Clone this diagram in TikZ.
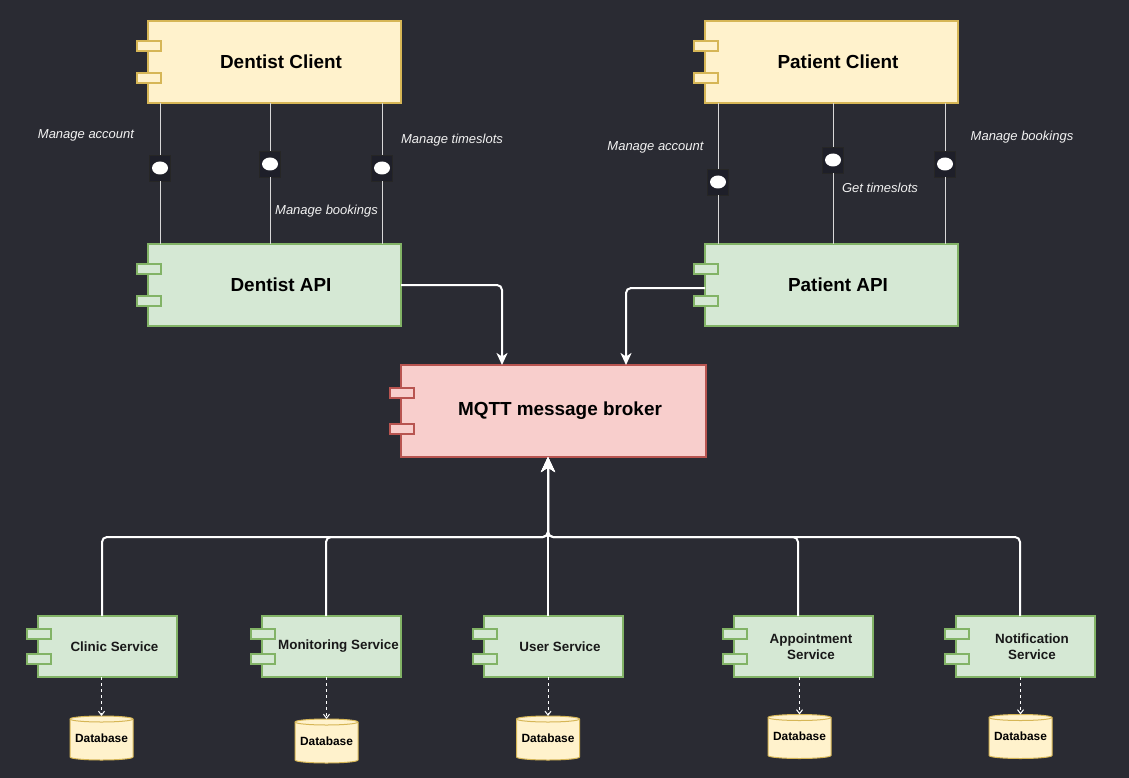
\documentclass[tikz,border=0pt]{standalone}
\usepackage{fontspec}
\setmainfont{Liberation Sans}
\usetikzlibrary{calc,arrows.meta}
\definecolor{bg}{RGB}{42,43,51}
\definecolor{yfill}{HTML}{FFF2CC}
\definecolor{ystroke}{HTML}{D6B656}
\definecolor{gfill}{HTML}{D5E8D4}
\definecolor{gstroke}{HTML}{82B366}
\definecolor{rfill}{HTML}{F8CECC}
\definecolor{rstroke}{HTML}{B85450}
\definecolor{ifill}{HTML}{1E1F29}
\definecolor{ilinec}{HTML}{D8D8D8}

\newcommand\comp[7]{%
  \node[#6, minimum width=#4pt, minimum height=#5pt, inner sep=0pt, outer sep=0pt, label={#7}] (#1) at (#2,#3) {};
  \draw[#6] ($(#1.west)+(-11,{-0.2*#5-5})$) rectangle ++(24,10);
  \draw[#6] ($(#1.west)+(-11,{0.2*#5-5})$) rectangle ++(24,10);
}
\newcommand\dbase[3]{%
  \draw[dbs] ({#2-31.5},{#3-19}) -- ({#2-31.5},{#3+19})
     arc[start angle=180,end angle=360,x radius=31.5pt,y radius=3pt]
     -- ({#2+31.5},{#3-19})
     arc[start angle=0,end angle=180,x radius=31.5pt,y radius=3pt] -- cycle;
  \draw[dbs,fill=none] ({#2-31.5},{#3-19}) arc[start angle=180,end angle=360,x radius=31.5pt,y radius=3pt];
  \node[dbt, minimum width=63pt, minimum height=44pt, inner sep=0pt, outer sep=0pt] (#1) at (#2,#3) {\raisebox{-1pt}{Database}};
}

\begin{document}
\begin{tikzpicture}[x=1pt,y=-1pt,
  ybox/.style={draw=ystroke, fill=yfill, line width=2pt},
  gbox/.style={draw=gstroke, fill=gfill, line width=2pt},
  rbox/.style={draw=rstroke, fill=rfill, line width=2pt},
  ttl/.style={font=\bfseries\fontsize{18.9pt}{22pt}\selectfont, text=black, inner sep=0pt},
  svc/.style={font=\bfseries\fontsize{13.4pt}{16pt}\selectfont, text=black!90, align=center, inner sep=0pt},
  ilab/.style={font=\itshape\fontsize{13pt}{15pt}\selectfont, text=white!95!black, inner sep=0pt},
  dbs/.style={draw=ystroke, fill=yfill, line width=1pt},
  dbt/.style={font=\bfseries\fontsize{11.9pt}{14pt}\selectfont, text=black},
  iface/.style={rectangle, draw=black!85, fill=ifill, line width=0.8pt, minimum width=21pt, minimum height=26pt, inner sep=0pt, outer sep=0pt,
    path picture={\fill[white] (path picture bounding box.center) ellipse [x radius=8pt, y radius=6.5pt];}},
  ifl/.style={draw=ilinec, line width=1pt},
  arr/.style={draw=white, line width=2pt, rounded corners=5pt, -{Stealth[length=12pt,width=11pt,inset=3.5pt]}},
  barr/.style={draw=white, line width=2pt, rounded corners=5pt, -{Stealth[length=15pt,width=14pt,inset=4.5pt]}},
  dasharr/.style={draw=white, line width=1pt, dash pattern=on 3pt off 3pt, -{Straight Barb[length=4pt,width=6pt]}}
]
\fill[bg] (0,0) rectangle (1129,778);
\useasboundingbox (0,0) rectangle (1129,778);

% main components
\comp{dc}{274.5}{62}{253}{82}{ybox}{[ttl,xshift=6.5pt]center:Dentist Client}
\comp{pc}{831.5}{62}{253}{82}{ybox}{[ttl,xshift=6.5pt]center:Patient Client}
\comp{da}{274.5}{285}{253}{82}{gbox}{[ttl,xshift=6.5pt]center:Dentist API}
\comp{pa}{831.5}{285}{253}{82}{gbox}{[ttl,xshift=6.5pt]center:Patient API}
\comp{mq}{553.5}{411}{305}{92}{rbox}{[ttl,xshift=6.5pt]center:MQTT message broker}

% services
\comp{s1}{107.5}{646.5}{139}{61}{gbox}{[svc,xshift=7pt]center:Clinic Service}
\comp{s2}{331.5}{646.5}{139}{61}{gbox}{[svc,xshift=7pt]center:Monitoring Service}
\comp{s3}{553.5}{646.5}{139}{61}{gbox}{[svc,xshift=6.5pt]center:User Service}
\comp{s4}{803.5}{646.5}{139}{61}{gbox}{[svc,xshift=7.5pt]center:Appointment\\Service}
\comp{s5}{1025.5}{646.5}{139}{61}{gbox}{[svc,xshift=6.5pt]center:Notification\\Service}

% databases
\dbase{d1}{101.5}{738}
\dbase{d2}{326.5}{741}
\dbase{d3}{548}{738}
\dbase{d4}{799.5}{736.5}
\dbase{d5}{1020.5}{736.5}

% interfaces
\node[iface] (i1) at (160,168) {};
\node[iface] (i2) at (270,164) {};
\node[iface] (i3) at (382,168) {};
\node[iface] (i4) at (718,182) {};
\node[iface] (i5) at (833,160) {};
\node[iface] (i6) at (945,164) {};

\draw[ifl] (i1 |- dc.south) -- (i1.north); \draw[ifl] (i1.south) -- (i1 |- da.north);
\draw[ifl] (i2 |- dc.south) -- (i2.north); \draw[ifl] (i2.south) -- (i2 |- da.north);
\draw[ifl] (i3 |- dc.south) -- (i3.north); \draw[ifl] (i3.south) -- (i3 |- da.north);
\draw[ifl] (i4 |- pc.south) -- (i4.north); \draw[ifl] (i4.south) -- (i4 |- pa.north);
\draw[ifl] (i5 |- pc.south) -- (i5.north); \draw[ifl] (i5.south) -- (i5 |- pa.north);
\draw[ifl] (i6 |- pc.south) -- (i6.north); \draw[ifl] (i6.south) -- (i6 |- pa.north);

% interface labels
\node[ilab] (l1) at (86,135) {Manage account};
\node[ilab] (l2) at (452,140) {Manage timeslots};
\node[ilab] (l3) at (326.5,211) {Manage bookings};
\node[ilab] (l4) at (655.5,147) {Manage account};
\node[ilab] (l5) at (880,188) {Get timeslots};
\node[ilab] (l6) at (1022,137) {Manage bookings};

% API -> broker
\draw[arr] (da.east) -| ([xshift=-51.5pt]mq.north);
\draw[arr] ([yshift=-3pt]pa.west) -| ([xshift=72.5pt]mq.north);

% services -> broker
\coordinate (bus) at ([xshift=-5.5pt,yshift=-80pt]mq.south);
\draw[barr] ([xshift=-5.5pt]s1.north) |- (bus) -- ([xshift=-5.5pt]mq.south);
\draw[barr] ([xshift=-5.5pt]s2.north) |- (bus) -- ([xshift=-5.5pt]mq.south);
\draw[barr] ([xshift=-5.5pt]s4.north) |- (bus) -- ([xshift=-5.5pt]mq.south);
\draw[barr] ([xshift=-5.5pt]s5.north) |- (bus) -- ([xshift=-5.5pt]mq.south);
\draw[barr, line width=2.5pt] ([xshift=-5.5pt]s3.north) -- ([xshift=-5.5pt]mq.south);

% services -> databases
\draw[dasharr] (d1.north |- s1.south) -- (d1.north);
\draw[dasharr] (d2.north |- s2.south) -- (d2.north);
\draw[dasharr] (d3.north |- s3.south) -- (d3.north);
\draw[dasharr] (d4.north |- s4.south) -- (d4.north);
\draw[dasharr] (d5.north |- s5.south) -- (d5.north);
\end{tikzpicture}
\end{document}
